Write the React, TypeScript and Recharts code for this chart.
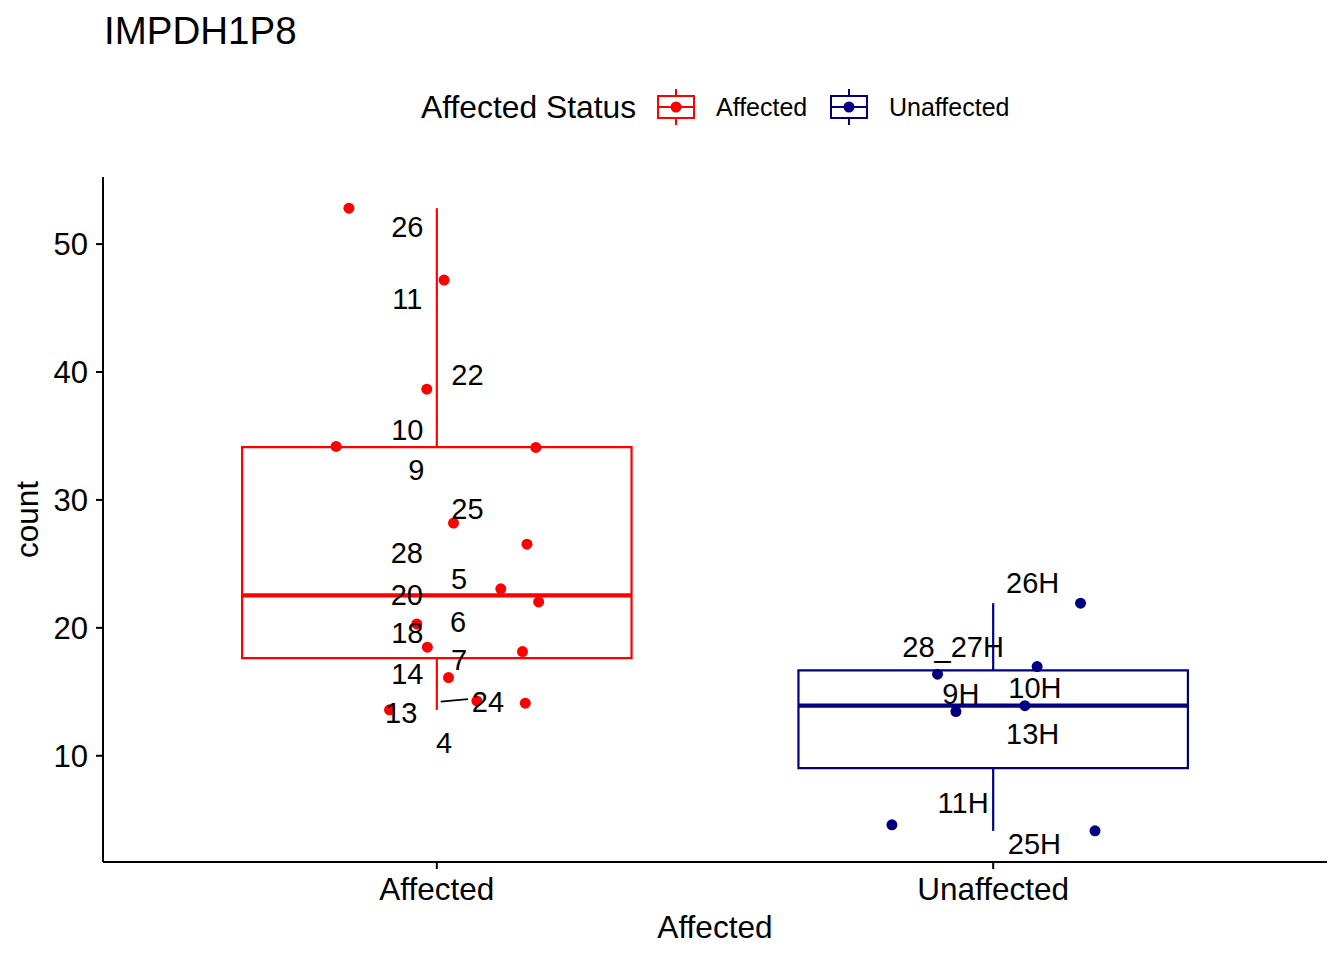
import React from 'react';
import {
  ComposedChart,
  Scatter,
  XAxis,
  YAxis,
  ReferenceArea,
  ReferenceLine,
  Customized,
} from 'recharts';

// ---------- data ----------
const categories = ['Affected', 'Unaffected'];
const seriesColors = ['#FF0000', '#000080'];
const yTicks = [10, 20, 30, 40, 50];
const xTicks = [1, 2];

const affectedJitter = [0.842, 1.013, 0.982, 0.819, 1.178, 1.03, 1.162, 1.115, 1.183, 0.964, 0.983, 1.154, 1.021, 1.072, 1.159, 0.915];
const affectedCount = [52.81, 47.19, 38.66, 34.18, 34.1, 28.19, 26.54, 23.05, 22.03, 20.31, 18.49, 18.15, 16.11, 14.29, 14.11, 13.59];

const unaffectedJitter = [2.183, 1.818, 1.933, 2.057, 1.9, 2.079, 2.157];
const unaffectedCount = [4.13, 4.6, 13.46, 13.92, 16.38, 16.97, 21.93];

const affectedLabels = ['26', '11', '22', '10', '9', '25', '28', '5', '20', '6', '18', '7', '14', '24', '13', '4'];
const affectedLabelX = [0.947, 0.947, 1.055, 0.947, 0.963, 1.055, 0.946, 1.04, 0.946, 1.038, 0.947, 1.04, 0.947, 1.092, 0.936, 1.013];
const affectedLabelY = [51.38, 45.78, 39.78, 35.48, 32.35, 29.3, 25.89, 23.83, 22.58, 20.49, 19.61, 17.5, 16.4, 14.24, 13.35, 11.01];

const unaffectedLabels = ['26H', '28_27H', '10H', '9H', '13H', '11H', '25H'];
const unaffectedLabelX = [2.071, 1.928, 2.075, 1.942, 2.071, 1.946, 2.074];
const unaffectedLabelY = [23.54, 18.54, 15.33, 14.89, 11.77, 6.34, 3.17];

// repel segment for label "24"
const segment24X = [1.007, 1.056];
const segment24Y = [14.24, 14.43];

// ---------- helpers ----------
const FONT = '"Liberation Sans", Arial, Helvetica, sans-serif';

function quantile(values: number[], p: number) {
  const s = [...values].sort((a, b) => a - b);
  const h = (s.length - 1) * p;
  const lo = Math.floor(h);
  const hi = Math.ceil(h);
  return s[lo] + (h - lo) * (s[hi] - s[lo]);
}

function boxStats(values: number[]) {
  const q1 = quantile(values, 0.25);
  const med = quantile(values, 0.5);
  const q3 = quantile(values, 0.75);
  const iqr = q3 - q1;
  const inside = values.filter((v) => v >= q1 - 1.5 * iqr && v <= q3 + 1.5 * iqr);
  return { q1, med, q3, lo: Math.min(...inside), hi: Math.max(...inside) };
}

const groups = [
  { pos: 1, stats: boxStats(affectedCount), color: seriesColors[0] },
  { pos: 2, stats: boxStats(unaffectedCount), color: seriesColors[1] },
];

const allCounts = [...affectedCount, ...unaffectedCount];
const yMin = Math.min(...allCounts);
const yMax = Math.max(...allCounts);
const yPad = (yMax - yMin) * 0.05;
const yDomain: [number, number] = [yMin - yPad, yMax + yPad];

const affectedPoints = affectedCount.map((y, i) => ({ x: affectedJitter[i], y }));
const unaffectedPoints = unaffectedCount.map((y, i) => ({ x: unaffectedJitter[i], y }));
const labelPoints = [
  ...affectedLabels.map((label, i) => ({ x: affectedLabelX[i], y: affectedLabelY[i], label })),
  ...unaffectedLabels.map((label, i) => ({ x: unaffectedLabelX[i], y: unaffectedLabelY[i], label })),
];

const BOX_HALF = 0.35;

const makeDot = (color: string) => (props: any) => (
  <circle cx={props.cx} cy={props.cy} r={5.5} fill={color} stroke="none" />
);

const LabelShape = (props: any) => (
  <text
    x={props.cx}
    y={props.cy}
    dy="0.36em"
    textAnchor="middle"
    fontSize={29}
    fontFamily={FONT}
    fill="#000000"
  >
    {props.payload.label}
  </text>
);

const LegendKey = ({ x, color }: { x: number; color: string }) => (
  <g>
    <line x1={x + 18} x2={x + 18} y1={89} y2={96} stroke={color} strokeWidth={2} />
    <line x1={x + 18} x2={x + 18} y1={118} y2={125} stroke={color} strokeWidth={2} />
    <rect x={x} y={96} width={36} height={22} fill="#ffffff" stroke={color} strokeWidth={2} />
    <line x1={x} x2={x + 36} y1={107} y2={107} stroke={color} strokeWidth={2} />
    <circle cx={x + 18} cy={107} r={5.5} fill={color} />
  </g>
);

const Overlay = () => (
  <g fontFamily={FONT}>
    <text x={104} y={44} fontSize={38.5} fill="#000000">IMPDH1P8</text>
    <text x={421} y={118} fontSize={31.8} fill="#000000">Affected Status</text>
    <LegendKey x={658} color={seriesColors[0]} />
    <text x={716} y={116} fontSize={25} fill="#000000">{categories[0]}</text>
    <LegendKey x={831} color={seriesColors[1]} />
    <text x={889} y={116} fontSize={25} fill="#000000">{categories[1]}</text>
  </g>
);

const YTitle = (props: any) => {
  const vb = props && props.viewBox ? props.viewBox : null;
  const cy = vb && typeof vb.y === 'number' ? vb.y + vb.height / 2 : 519.5;
  return (
    <text
      x={38}
      y={cy}
      transform={`rotate(-90, 38, ${cy})`}
      textAnchor="middle"
      fontSize={31.5}
      fontFamily={FONT}
      fill="#000000"
    >
      count
    </text>
  );
};

export default function App() {
  return (
    <div style={{ position: 'absolute', left: 0, top: 0, width: 1344, height: 960, background: '#ffffff' }}>
      <ComposedChart
        width={1344}
        height={960}
        margin={{ top: 177, right: 17, bottom: 0, left: 0 }}
        style={{ fontFamily: FONT }}
      >
        <XAxis
          dataKey="x"
          type="number"
          domain={[0.4, 2.6]}
          allowDataOverflow
          ticks={xTicks}
          tickFormatter={(v: number) => categories[Math.round(v) - 1]}
          height={98}
          axisLine={{ stroke: '#000000', strokeWidth: 2 }}
          tickLine={{ stroke: '#000000', strokeWidth: 2 }}
          tickSize={7}
          tickMargin={9}
          tick={{ fontSize: 31.5, fill: '#000000', fontFamily: FONT }}
          label={{ value: 'Affected', position: 'insideBottom', offset: 22, fontSize: 31.6, fill: '#000000', fontFamily: FONT }}
        />
        <YAxis
          dataKey="y"
          type="number"
          domain={yDomain}
          allowDataOverflow
          ticks={yTicks}
          width={103}
          axisLine={{ stroke: '#000000', strokeWidth: 2 }}
          tickLine={{ stroke: '#000000', strokeWidth: 2 }}
          tickSize={7}
          tickMargin={8}
          tick={{ fontSize: 31, fill: '#000000', fontFamily: FONT }}
          label={YTitle}
        />

        {groups.map((g) => (
          <ReferenceLine
            key={`wu${g.pos}`}
            segment={[{ x: g.pos, y: g.stats.q3 }, { x: g.pos, y: g.stats.hi }]}
            stroke={g.color}
            strokeWidth={2.2}
          />
        ))}
        {groups.map((g) => (
          <ReferenceLine
            key={`wl${g.pos}`}
            segment={[{ x: g.pos, y: g.stats.q1 }, { x: g.pos, y: g.stats.lo }]}
            stroke={g.color}
            strokeWidth={2.2}
          />
        ))}
        {groups.map((g) => (
          <ReferenceArea
            key={`box${g.pos}`}
            x1={g.pos - BOX_HALF}
            x2={g.pos + BOX_HALF}
            y1={g.stats.q1}
            y2={g.stats.q3}
            fill="#ffffff"
            fillOpacity={0}
            stroke={g.color}
            strokeWidth={2.2}
          />
        ))}
        {groups.map((g) => (
          <ReferenceLine
            key={`med${g.pos}`}
            segment={[{ x: g.pos - BOX_HALF, y: g.stats.med }, { x: g.pos + BOX_HALF, y: g.stats.med }]}
            stroke={g.color}
            strokeWidth={4.4}
          />
        ))}

        <Scatter data={affectedPoints} shape={makeDot(seriesColors[0])} isAnimationActive={false} />
        <Scatter data={unaffectedPoints} shape={makeDot(seriesColors[1])} isAnimationActive={false} />

        <ReferenceLine
          segment={[{ x: segment24X[0], y: segment24Y[0] }, { x: segment24X[1], y: segment24Y[1] }]}
          stroke="#000000"
          strokeWidth={1.8}
        />
        <Scatter data={labelPoints} shape={LabelShape} isAnimationActive={false} />

        <Customized component={Overlay} />
      </ComposedChart>
    </div>
  );
}
